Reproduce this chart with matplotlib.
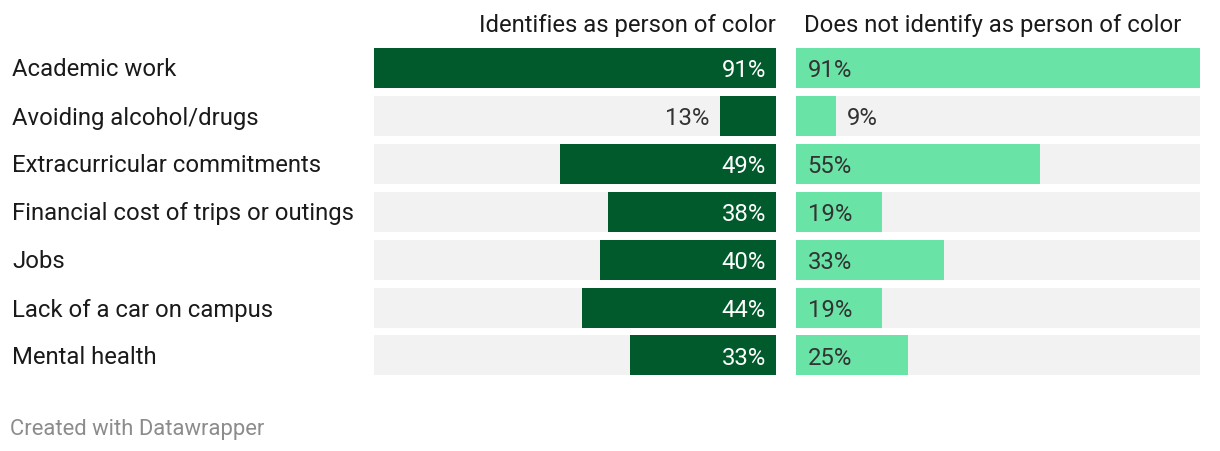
import matplotlib
matplotlib.use("Agg")
import matplotlib.pyplot as plt
from matplotlib.transforms import offset_copy

categories = ["Academic work", "Avoiding alcohol/drugs", "Extracurricular commitments",
              "Financial cost of trips or outings", "Jobs", "Lack of a car on campus",
              "Mental health"]
# values (labels show rounded percentages)
poc = [91, 12.7, 48.9, 38, 39.8, 43.9, 33]
non_poc = [91, 9, 55, 19.4, 33.3, 19.4, 25.2]
headers = ["Identifies as person of color", "Does not identify as person of color"]
footer = "Created with Datawrapper"

DARK = "#005a2b"
LIGHT = "#69e3a6"
BG = "#f2f2f2"
TEXT = "#333333"

plt.rcParams['font.family'] = ['Roboto', 'DejaVu Sans']

W, H = 1220, 452
fig = plt.figure(figsize=(W / 100, H / 100), dpi=100)

bottom = 1 - 380.5 / H
height = 336 / H
axL = fig.add_axes([374 / W, bottom, 402 / W, height])
axR = fig.add_axes([796 / W, bottom, 404 / W, height])

xmax = max(max(poc), max(non_poc))
n = len(categories)
ys = list(range(n))
bh = 40 / 48
FS = 17.2
BASE = -8.5  # baseline offset (dots) below row centre

for ax in (axL, axR):
    ax.set_ylim(n - 0.5, -0.5)
    ax.axis("off")
axL.set_xlim(xmax, 0)
axR.set_xlim(0, xmax)

axL.barh(ys, [xmax] * n, height=bh, color=BG, left=0)
axR.barh(ys, [xmax] * n, height=bh, color=BG, left=0)
axL.barh(ys, poc, height=bh, color=DARK)
axR.barh(ys, non_poc, height=bh, color=LIGHT)

for y, v in zip(ys, poc):
    if v > 20:
        t = offset_copy(axL.transData, fig=fig, x=-10, y=BASE, units='dots')
        axL.text(0, y, f"{round(v)}%", transform=t, ha="right", va="baseline",
                 color="white", fontsize=FS)
    else:
        t = offset_copy(axL.transData, fig=fig, x=-11, y=BASE, units='dots')
        axL.text(v, y, f"{round(v)}%", transform=t, ha="right", va="baseline",
                 color=TEXT, fontsize=FS)

for y, v in zip(ys, non_poc):
    if v > 15:
        t = offset_copy(axR.transData, fig=fig, x=11.5, y=BASE, units='dots')
        axR.text(0, y, f"{round(v)}%", transform=t, ha="left", va="baseline",
                 color=TEXT, fontsize=FS)
    else:
        t = offset_copy(axR.transData, fig=fig, x=11, y=BASE, units='dots')
        axR.text(v, y, f"{round(v)}%", transform=t, ha="left", va="baseline",
                 color=TEXT, fontsize=FS)

for y, c in zip(ys, categories):
    fig.text(12 / W, 1 - (68 + 48 * y + 8.5) / H, c, ha="left", va="baseline",
             color="#1a1a1a", fontsize=FS)

fig.text(776 / W, 1 - 32 / H, headers[0], ha="right", va="baseline",
         color="#1a1a1a", fontsize=FS)
fig.text(804 / W, 1 - 32 / H, headers[1], ha="left", va="baseline",
         color="#1a1a1a", fontsize=FS)

fig.text(10 / W, 1 - 435 / H, footer, ha="left", va="baseline",
         color="#8c8c8c", fontsize=15.8)

fig.savefig("out.png", dpi=100)
